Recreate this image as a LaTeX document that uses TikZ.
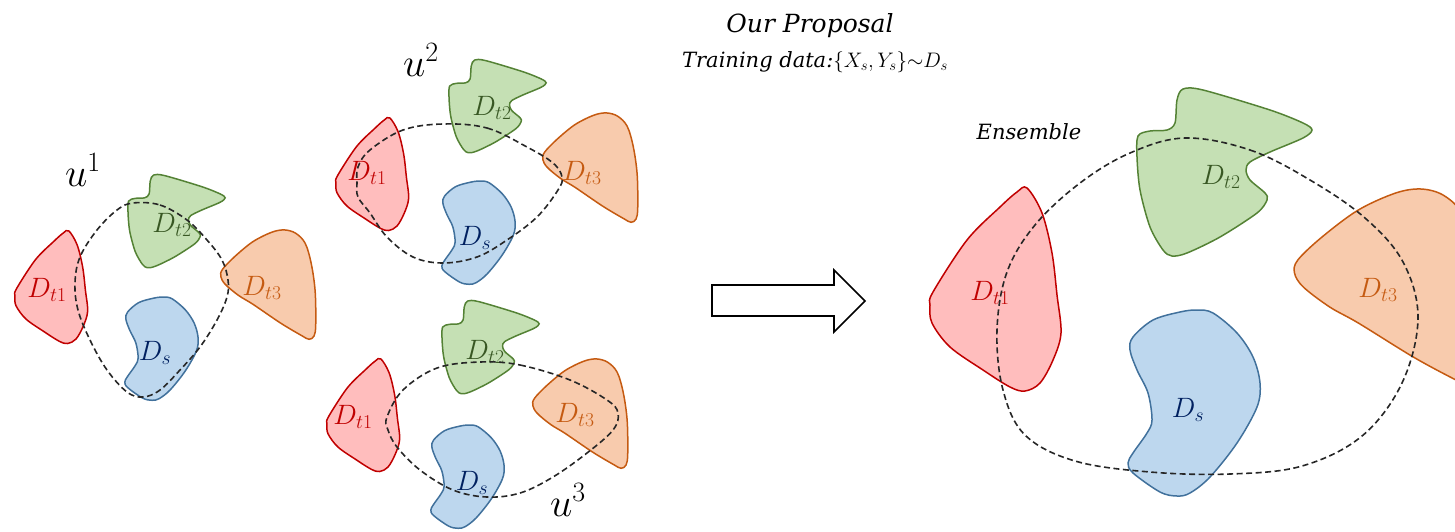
\RequirePackage{fix-cm}
\documentclass[tikz,border=0pt]{standalone}
\usepackage{fontspec}
\setmainfont{DejaVu Serif}
\definecolor{redfill}{HTML}{FFBDBD}
\definecolor{redline}{HTML}{C00000}
\definecolor{greenfill}{HTML}{C5E0B4}
\definecolor{greenline}{HTML}{548235}
\definecolor{greentext}{HTML}{385723}
\definecolor{orangefill}{HTML}{F8CBAD}
\definecolor{orangeline}{HTML}{C55A11}
\definecolor{bluefill}{HTML}{BDD7EE}
\definecolor{blueline}{HTML}{41719C}
\definecolor{bluetext}{HTML}{002060}
\tikzset{
  blobred/.style={fill=redfill,draw=redline,line width=1.5pt},
  blobgreen/.style={fill=greenfill,draw=greenline,line width=1.5pt},
  bloborange/.style={fill=orangefill,draw=orangeline,line width=1.5pt},
  blobblue/.style={fill=bluefill,draw=blueline,line width=1.5pt},
  region/.style={draw=black!85,line width=1.6pt,dash pattern=on 6pt off 3.5pt},
  dlabel/.style={inner sep=0pt,font=\fontsize{28}{32}\selectfont},
  ulabel/.style={inner sep=0pt,font=\fontsize{40}{46}\selectfont},
  caption/.style={inner sep=0pt,font=\fontsize{21}{25}\selectfont\itshape},
  % domain outlines, drawn about their own centre (large size)
  pics/redshape/.style={code={
    \draw[blobred] plot[smooth cycle,tension=0.55] coordinates {
      (32,-112) (47,-87) (57,-47) (62,-5) (66,33) (58,60) (45,83) (30,91)
      (15,87) (-12,70) (-45,47) (-63,23) (-65,5) (-62,-8) (-28,-60)
      (5,-93) (22,-108)};}},
  pics/greenshape/.style={code={
    \draw[blobgreen] plot[smooth cycle,tension=0.5] coordinates {
      (-62,-34) (-50,-39) (-33,-40) (-25,-47) (-23,-70) (-17,-81) (3,-80)
      (70,-60) (103,-47) (112,-40) (103,-32) (70,-18) (50,-8) (46,0)
      (50,10) (65,23) (67,30) (57,43) (20,67) (-13,83) (-28,86) (-37,80)
      (-50,57) (-60,20) (-63,-13)};}},
  pics/orangeshape/.style={code={
    \draw[bloborange] plot[smooth cycle,tension=0.55] coordinates {
      (30,-101) (50,-95) (67,-77) (78,-40) (85,10) (86,70) (83,90)
      (74,96) (60,89) (23,67) (-27,33) (-53,17) (-77,-3) (-85,-17)
      (-82,-30) (-60,-53) (-27,-80) (7,-97)};}},
  pics/blueshape/.style={code={
    \draw[blobblue] plot[smooth cycle,tension=0.55] coordinates {
      (2,-90) (18,-87) (42,-67) (58,-43) (65,-17) (62,7) (42,43) (15,77)
      (-5,93) (-18,96) (-35,92) (-62,73) (-67,63) (-62,53) (-48,33)
      (-43,20) (-47,-7) (-58,-30) (-65,-50) (-62,-63) (-42,-80) (-15,-88)};}},
}
\begin{document}
\begin{tikzpicture}[x=1pt,y=-1pt]
\useasboundingbox (0,0) rectangle (1455,531);
\clip (0,0) rectangle (1455,531);

% ---- title
\node[caption,font=\fontsize{25}{30}\selectfont\itshape] (title) at (810,26) {Our Proposal};
\node[caption] (train) at (815,62) {Training data:$\{X_s,Y_s\}{\sim}D_s$};

% ---- first model u^1
\pic[scale=0.555] at (51,293) {redshape};
\pic[scale=0.555] at (163,220) {greenshape};
\pic[scale=0.555] at (268,286) {orangeshape};
\pic[scale=0.555] at (162,347) {blueshape};
\node[ulabel] (u1) at (83,170) {$u^1$};
\node[dlabel,text=redline] (a1) at (47,290) {$D_{t1}$};
\node[dlabel,text=greentext] (a2) at (172,225) {$D_{t2}$};
\node[dlabel,text=orangeline] (a3) at (262,288) {$D_{t3}$};
\node[dlabel,text=bluetext] (as) at (155,353) {$D_s$};
\draw[region] plot[smooth cycle,tension=0.6] coordinates {
  (133,203) (160,205) (187,220) (207,240) (222,260) (228,280) (227,297)
  (217,320) (200,347) (180,370) (160,390) (143,397) (127,392) (107,370)
  (90,340) (78,310) (75,283) (80,257) (97,230) (117,210)};

% ---- second model u^2
\pic[scale=0.555] at (372,180) {redshape};
\pic[scale=0.555] at (484,105) {greenshape};
\pic[scale=0.555] at (590,169) {orangeshape};
\pic[scale=0.555] at (479,231) {blueshape};
\node[ulabel] (u2) at (421,60) {$u^2$};
\node[dlabel,text=redline] (b1) at (367,173) {$D_{t1}$};
\node[dlabel,text=greentext] (b2) at (492,108) {$D_{t2}$};
\node[dlabel,text=orangeline] (b3) at (582,173) {$D_{t3}$};
\node[dlabel,text=bluetext] (bs) at (475,238) {$D_s$};
\draw[region] plot[smooth cycle,tension=0.6] coordinates {
  (443,124) (487,128) (527,147) (553,163) (562,177) (558,190) (537,217)
  (507,240) (477,257) (443,263) (413,257) (387,237) (370,213) (358,197)
  (357,183) (358,167) (370,150) (403,130)};

% ---- third model u^3
\pic[scale=0.555] at (363,421) {redshape};
\pic[scale=0.555] at (477,346) {greenshape};
\pic[scale=0.555] at (580,415) {orangeshape};
\pic[scale=0.555] at (468,475) {blueshape};
\node[ulabel] (u3) at (568,500) {$u^3$};
\node[dlabel,text=redline] (c1) at (353,417) {$D_{t1}$};
\node[dlabel,text=greentext] (c2) at (485,352) {$D_{t2}$};
\node[dlabel,text=orangeline] (c3) at (575,415) {$D_{t3}$};
\node[dlabel,text=bluetext] (cs) at (472,483) {$D_s$};
\draw[region] plot[smooth cycle,tension=0.6] coordinates {
  (480,362) (520,365) (570,380) (607,400) (618,413) (613,430) (587,453)
  (553,477) (520,493) (487,497) (453,490) (420,470) (397,447) (388,430)
  (387,417) (403,390) (437,368)};

% ---- block arrow
\draw[line width=1.6pt,fill=white,line join=miter]
  (712,285) -- (834,285) -- (834,270) -- (865,301) -- (834,332)
  -- (834,316) -- (712,316) -- cycle;

% ---- ensemble
\node[caption] (ens) at (1029,132) {Ensemble};
\pic at (995,300) {redshape};
\pic at (1200,170) {greenshape};
\pic[xscale=1.1] at (1388,290) {orangeshape};
\pic at (1195,400) {blueshape};
\node[dlabel,text=redline] (e1) at (990,293) {$D_{t1}$};
\node[dlabel,text=greentext] (e2) at (1221,177) {$D_{t2}$};
\node[dlabel,text=orangeline] (e3) at (1378,290) {$D_{t3}$};
\node[dlabel,text=bluetext] (es) at (1188,410) {$D_s$};
\draw[region] plot[smooth cycle,tension=0.6] coordinates {
  (1185,138) (1250,150) (1310,180) (1365,218) (1403,262) (1418,318)
  (1402,383) (1362,436) (1302,466) (1230,474) (1150,472) (1075,461)
  (1025,435) (1003,390) (997,330) (1007,272) (1035,225) (1080,183)
  (1130,153)};
\end{tikzpicture}
\end{document}
